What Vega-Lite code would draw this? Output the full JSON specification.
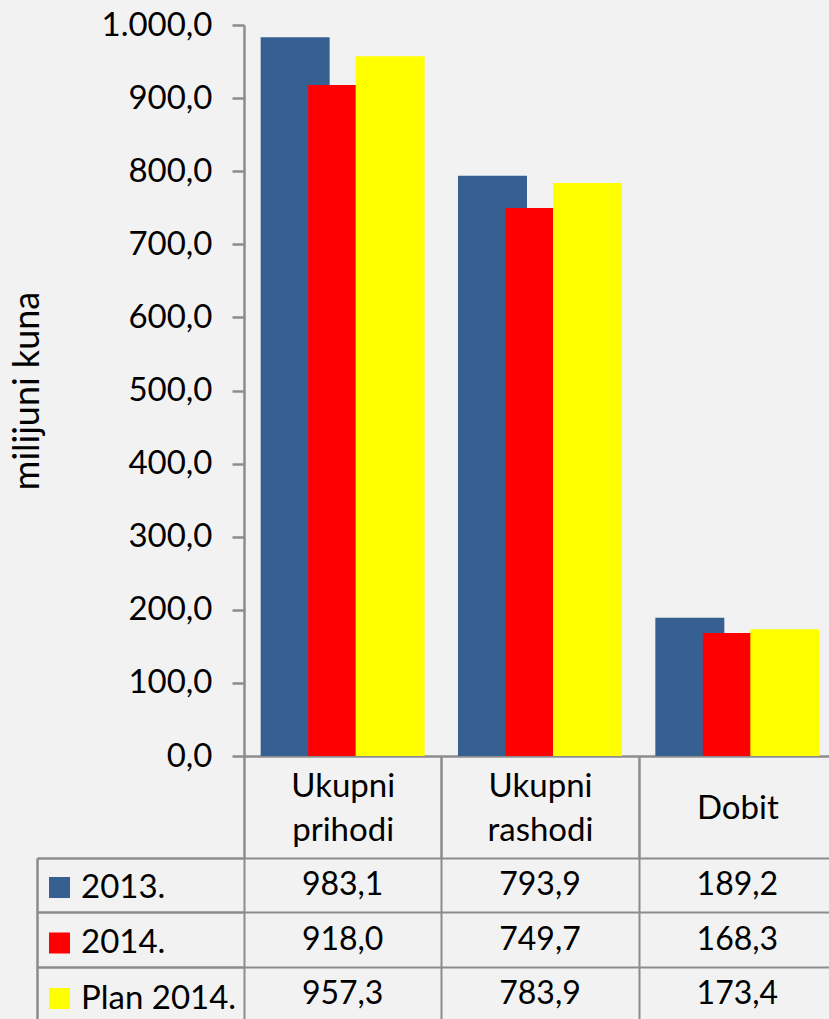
{
  "$schema": "https://vega.github.io/schema/vega-lite/v6.json",
  "background": "#f2f2f2",
  "padding": {"left": 9, "top": 9, "right": 0, "bottom": 0},
  "config": {
    "locale": {"number": {"decimal": ",", "thousands": ".", "grouping": [3], "currency": ["", ""]}},
    "view": {"stroke": null},
    "font": "Lato",
    "axis": {
      "labelFont": "Lato", "titleFont": "Lato", "labelColor": "#000000", "titleColor": "#000000",
      "domainColor": "#8c8c8c", "tickColor": "#8c8c8c", "gridColor": "#8c8c8c",
      "domainWidth": 2.5, "tickWidth": 2.5, "gridWidth": 2
    }
  },
  "datasets": {
    "d": [
      {"cat": "Ukupni prihodi", "series": "2013.", "value": 983.1},
      {"cat": "Ukupni prihodi", "series": "2014.", "value": 918.0},
      {"cat": "Ukupni prihodi", "series": "Plan 2014.", "value": 957.3},
      {"cat": "Ukupni rashodi", "series": "2013.", "value": 793.9},
      {"cat": "Ukupni rashodi", "series": "2014.", "value": 749.7},
      {"cat": "Ukupni rashodi", "series": "Plan 2014.", "value": 783.9},
      {"cat": "Dobit", "series": "2013.", "value": 189.2},
      {"cat": "Dobit", "series": "2014.", "value": 168.3},
      {"cat": "Dobit", "series": "Plan 2014.", "value": 173.4}
    ]
  },
  "bounds": "flush",
  "spacing": 102,
  "resolve": {"scale": {"x": "independent", "y": "independent"}},
  "vconcat": [
    {
      "width": 592,
      "height": 731,
      "data": {"name": "d"},
      "encoding": {
        "x": {
          "field": "cat", "type": "nominal",
          "sort": ["Ukupni prihodi", "Ukupni rashodi", "Dobit"],
          "scale": {"paddingInner": 0, "paddingOuter": 0},
          "axis": {
            "title": null, "labelExpr": "split(datum.label, ' ')", "labelFontSize": 33,
            "labelAngle": 0, "labelBaseline": "middle", "labelLineHeight": 44,
            "tickBand": "extent", "tickSize": 102,
            "labelPadding": {"condition": {"test": "datum.value === 'Dobit'", "value": -50}, "value": -72},
            "labelLimit": 0
          }
        },
        "y": {
          "field": "value", "type": "quantitative",
          "scale": {"domain": [0, 1000]},
          "axis": {
            "values": [0, 100, 200, 300, 400, 500, 600, 700, 800, 900, 1000],
            "format": ",.1f", "grid": false, "tickSize": 12, "labelPadding": 20,
            "labelFontSize": 33, "title": "milijuni kuna", "titleFontSize": 36,
            "titleFontWeight": "normal", "titlePadding": 55
          }
        },
        "color": {
          "field": "series", "type": "nominal",
          "scale": {"domain": ["2013.", "2014.", "Plan 2014."], "range": ["#376092", "#ff0000", "#ffff00"]},
          "legend": {
            "title": null, "orient": "none", "legendX": -201, "legendY": 846,
            "symbolType": "square", "symbolSize": 441, "symbolStrokeWidth": 0,
            "labelFontSize": 33, "labelFont": "Lato", "labelColor": "#000000",
            "labelOffset": 5, "rowPadding": 21.5, "labelLimit": 300
          }
        }
      },
      "layer": [
        {"transform": [{"filter": "datum.series === '2013.'"}], "mark": {"type": "bar", "width": 69, "xOffset": -47.5}},
        {"transform": [{"filter": "datum.series === '2014.'"}], "mark": {"type": "bar", "width": 69, "xOffset": 0}},
        {"transform": [{"filter": "datum.series === 'Plan 2014.'"}], "mark": {"type": "bar", "width": 69, "xOffset": 47.5}}
      ]
    },
    {
      "width": 592,
      "height": 163,
      "data": {"name": "d"},
      "mark": {"type": "text", "fontSize": 32, "font": "Lato", "color": "#000000"},
      "encoding": {
        "x": {
          "field": "cat", "type": "nominal",
          "sort": ["Ukupni prihodi", "Ukupni rashodi", "Dobit"],
          "scale": {"paddingInner": 0, "paddingOuter": 0},
          "axis": {"title": null, "labels": false, "ticks": false, "domain": false, "grid": true, "tickBand": "extent", "orient": "top"}
        },
        "y": {
          "field": "series", "type": "nominal",
          "sort": ["2013.", "2014.", "Plan 2014."],
          "scale": {"paddingInner": 0, "paddingOuter": 0},
          "axis": {"title": null, "labels": false, "offset": 207, "tickSize": -207, "tickBand": "extent", "grid": true, "domain": true}
        },
        "text": {"field": "value", "type": "quantitative", "format": ",.1f"}
      }
    }
  ]
}
